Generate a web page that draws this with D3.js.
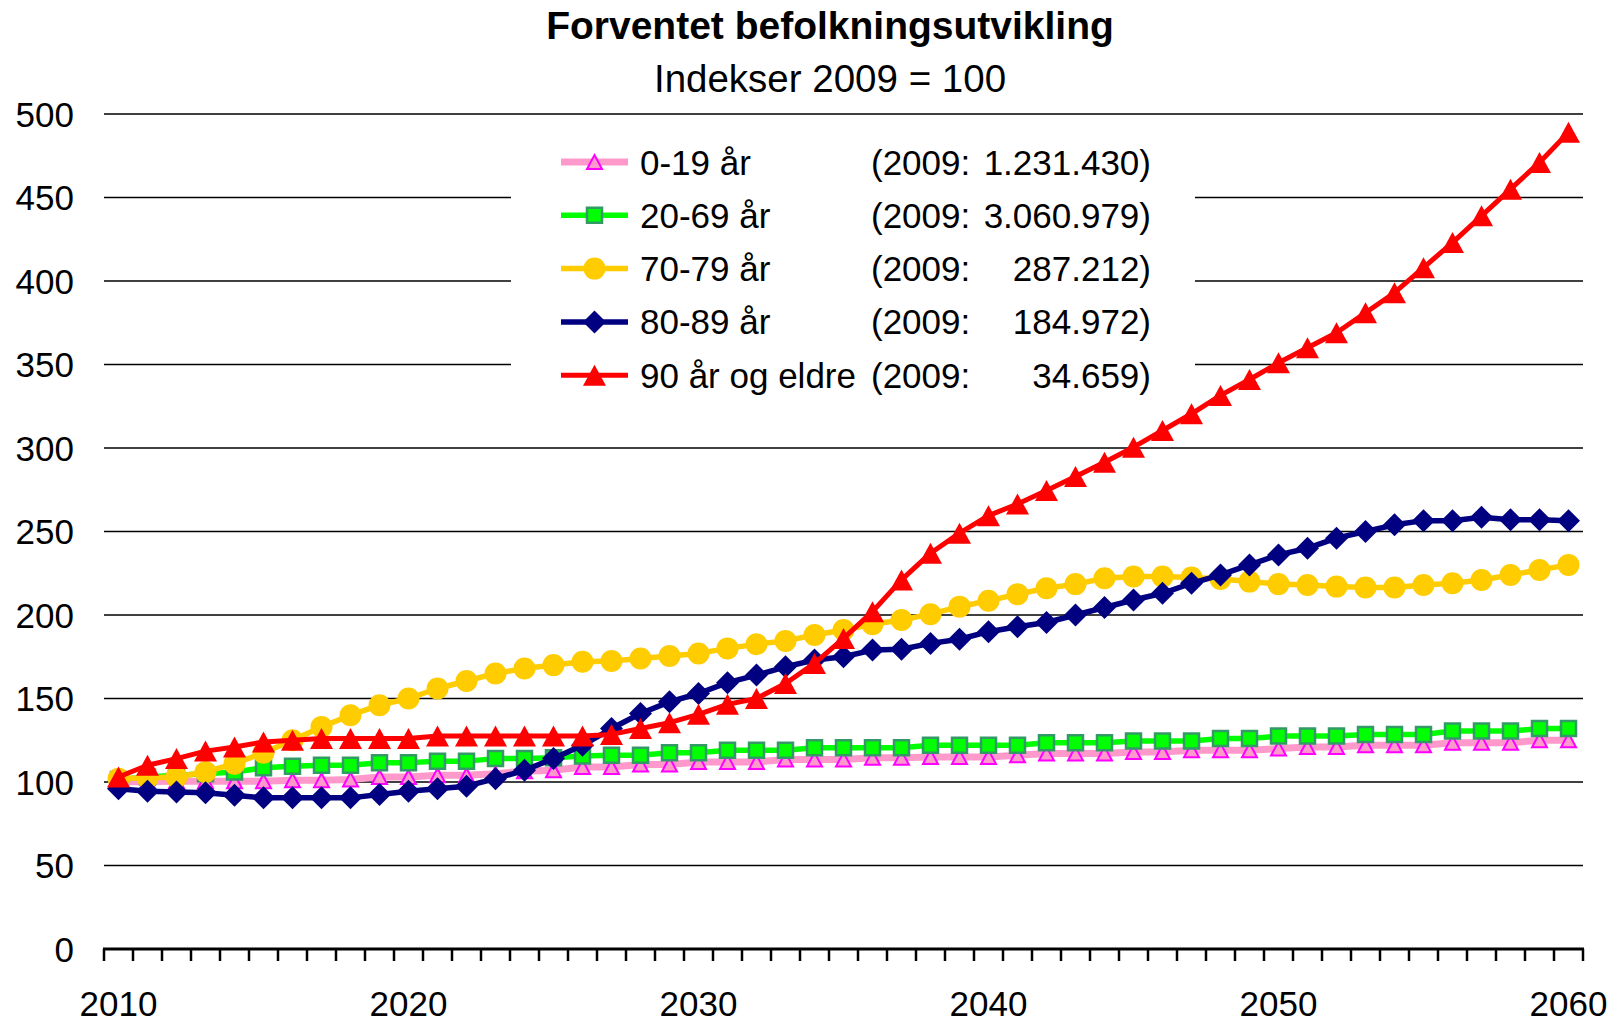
<!DOCTYPE html>
<html><head><meta charset="utf-8">
<script src="https://cdn.jsdelivr.net/npm/d3@7"></script>
<style>
body{margin:0;background:#fff}
svg{display:block}
text{font-family:"Liberation Sans",Arial,sans-serif;fill:#000}
</style>
</head><body>
<svg id="c" width="1613" height="1024"></svg>
<script>
// ---------- data ----------
const years = [2010,2011,2012,2013,2014,2015,2016,2017,2018,2019,
  2020,2021,2022,2023,2024,2025,2026,2027,2028,2029,
  2030,2031,2032,2033,2034,2035,2036,2037,2038,2039,
  2040,2041,2042,2043,2044,2045,2046,2047,2048,2049,
  2050,2051,2052,2053,2054,2055,2056,2057,2058,2059,2060];
const xLabelYears = [2010,2020,2030,2040,2050,2060];
const yTicks = [0,50,100,150,200,250,300,350,400,450,500];

const age0_19 = [100,100.3,100.5,100.5,100.5,100.5,101,101,101.5,103,
  103,104,104,105,106.5,107,109,109,110.5,110.5,
  112,112,112,113.5,113.5,113.5,114.5,114.5,115,115,
  115,116,117,117,117,118,118,119,119,119,
  120,121,121,122,122,122,123.5,123.5,123.5,125,125];
const age20_69 = [101.5,103,104,105,106,108.5,109.5,110,110,111.5,
  111.5,112.5,112.5,114,114,114.5,115.5,116,116,117.5,
  117.5,119,119,119,120.5,120.5,120.5,120.5,122,122,
  122,122,123.5,123.5,123.5,124.5,124.5,124.5,126,126,
  127.5,127.5,127.5,128.5,128.5,128.5,130.5,130.5,130.5,132,132];
const age70_79 = [102,102.5,103,106,111,117.5,125,133,140,146,
  150,156,160.5,165,168,170,172,172.5,174,175.5,
  177,180,182.5,184.5,188,191,194.5,197,200.5,205,
  208.5,212.5,216,218.5,222,223,223,222.5,221.5,220,
  218.5,218,217,216.5,216.5,218,219,221,224,227,230];
const age80_89 = [96,94.5,94,93.5,92,90.5,90.5,90.5,90.5,92.5,
  94.5,96,97.5,102,107,114,122,132,141,148,
  153,159.5,164,169,173,175,179,179.5,183,185.5,
  190,193,195.5,200,204.5,209,213,219,224,230,
  236,240,246,250,254,256.5,256.5,258.5,257,257,256.5];
const age90plus = [103,110,114,118.5,121,124,125,126,126,126,
  126,127.5,127.5,127.5,127.5,127.5,127.5,128.5,132,135.5,
  140.5,146.5,150,159,171,186,202,221,237,249,
  259.5,266.5,274.5,283,291.5,300.5,310.5,320.5,331.5,341,
  351,360,369,381,393,408,423,439,455,471,489];

const seriesNames = ["0-19 år","20-69 år","70-79 år","80-89 år","90 år og eldre"];
const base2009 = ["1.231.430","3.060.979","287.212","184.972","34.659"];
const title = "Forventet befolkningsutvikling";
const subtitle = "Indekser 2009 = 100";

// ---------- styles ----------
const styles = [
  {values:age0_19,  line:"#FF99CC", lw:7,   shape:"tri",  size:[15,14], fill:"#FF99CC", stroke:"#FF00FF", sw:2},
  {values:age20_69, line:"#00FF00", lw:5.5, shape:"sq",   size:[15,15], fill:"#00FF00", stroke:"#339966", sw:2.5},
  {values:age70_79, line:"#FFCC00", lw:5.5, shape:"circ", size:[22,22], fill:"#FFCC00", stroke:"none", sw:0},
  {values:age80_89, line:"#000080", lw:5.5, shape:"dia",  size:[23,23], fill:"#000080", stroke:"none", sw:0},
  {values:age90plus,line:"#FF0000", lw:5,   shape:"tri",  size:[23,21], fill:"#FF0000", stroke:"none", sw:0}
];

function markerPath(shape,[w,h]){
  const a=w/2,b=h/2;
  if(shape==="tri") return `M0,${-b}L${a},${b}L${-a},${b}Z`;
  if(shape==="sq") return `M${-a},${-b}H${a}V${b}H${-a}Z`;
  if(shape==="dia") return `M0,${-b}L${a},0L0,${b}L${-a},0Z`;
  return d3.arc()({innerRadius:0,outerRadius:a,startAngle:0,endAngle:2*Math.PI});
}

// ---------- chart ----------
const svg = d3.select("#c");
const x = d3.scaleBand().domain(years).range([104,1583]).padding(0);
const y = d3.scaleLinear().domain([0,500]).range([949,114]);
const cx = d => x(d) + x.bandwidth()/2;

// title
svg.append("text").attr("x",830).attr("y",39).attr("text-anchor","middle")
  .style("font-size","39px").style("font-weight","bold").text(title);
svg.append("text").attr("x",830).attr("y",91.5).attr("text-anchor","middle")
  .style("font-size","38.5px").text(subtitle);

// gridlines
svg.append("g").selectAll("line").data(yTicks.filter(v=>v>0)).join("line")
  .attr("x1",x.range()[0]).attr("x2",x.range()[1])
  .attr("y1",d=>y(d)).attr("y2",d=>y(d))
  .attr("stroke","#000").attr("stroke-width",1.7);

// y labels
svg.append("g").selectAll("text").data(yTicks).join("text")
  .attr("x",74).attr("y",d=>y(d)+12.5).attr("text-anchor","end")
  .style("font-size","35px").text(d=>d);

// x axis
const xa = svg.append("g");
xa.append("line").attr("x1",x.range()[0]-1).attr("x2",x.range()[1]+1)
  .attr("y1",y(0)).attr("y2",y(0)).attr("stroke","#000").attr("stroke-width",3);
const tickPos = years.map(d=>x(d)).concat([x.range()[1]]);
xa.selectAll("line.t").data(tickPos).join("line").attr("class","t")
  .attr("x1",d=>d).attr("x2",d=>d).attr("y1",y(0)).attr("y2",y(0)+12)
  .attr("stroke","#000").attr("stroke-width",2.5);
xa.selectAll("text").data(xLabelYears).join("text")
  .attr("x",d=>cx(d)).attr("y",1016).attr("text-anchor","middle")
  .style("font-size","35px").text(d=>d);

// series
const lineGen = d3.line().x((d,i)=>cx(years[i])).y(d=>y(d));
styles.forEach(s=>{
  const g = svg.append("g");
  g.append("path").attr("d",lineGen(s.values)).attr("fill","none")
    .attr("stroke",s.line).attr("stroke-width",s.lw)
    .attr("stroke-linejoin","round").attr("stroke-linecap","round");
  g.selectAll("path.m").data(s.values).join("path").attr("class","m")
    .attr("d",markerPath(s.shape,s.size))
    .attr("transform",(d,i)=>`translate(${cx(years[i])},${y(d)})`)
    .attr("fill",s.fill).attr("stroke",s.stroke).attr("stroke-width",s.sw);
});

// legend
const lg = svg.append("g");
lg.append("rect").attr("x",511).attr("y",132).attr("width",684).attr("height",268).attr("fill","#fff");
seriesNames.forEach((name,i)=>{
  const s = styles[i];
  const ry = 162 + i*53.3;
  lg.append("line").attr("x1",561).attr("x2",628).attr("y1",ry).attr("y2",ry)
    .attr("stroke",s.line).attr("stroke-width",s.lw);
  lg.append("path").attr("d",markerPath(s.shape,s.size))
    .attr("transform",`translate(594.5,${ry})`)
    .attr("fill",s.fill).attr("stroke",s.stroke).attr("stroke-width",s.sw);
  lg.append("text").attr("x",640).attr("y",ry+12.5).style("font-size","35px").text(name);
  lg.append("text").attr("x",871).attr("y",ry+12.5).style("font-size","35px").text("(2009:");
  lg.append("text").attr("x",1151).attr("y",ry+12.5).attr("text-anchor","end")
    .style("font-size","35px").text(base2009[i]+")");
});
</script>
</body></html>
